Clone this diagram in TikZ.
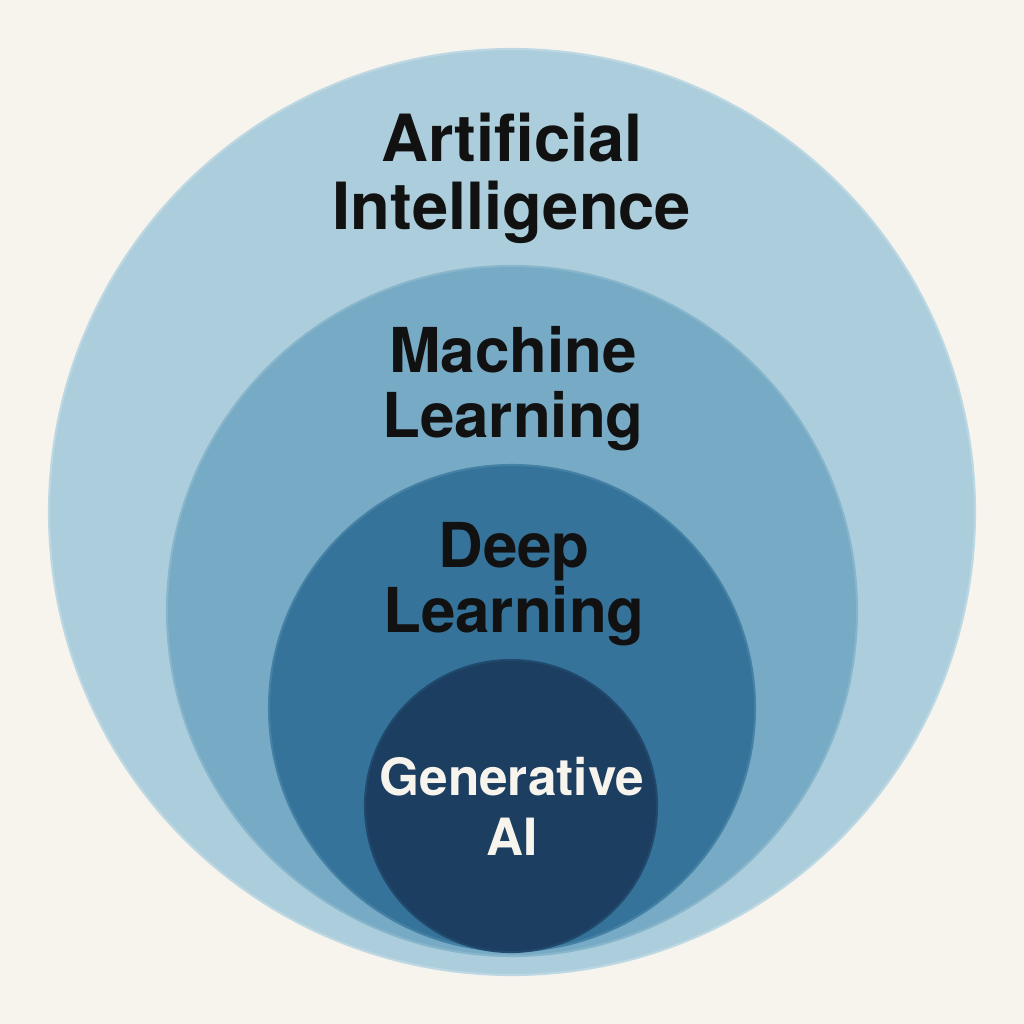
\documentclass[tikz,border=0pt]{standalone}
\usepackage{fontspec}
\setmainfont{TeX Gyre Heros}
\usepackage{tikz}
\usetikzlibrary{calc}

\definecolor{paper}{HTML}{F7F4EE}
\definecolor{aiblue}{HTML}{ACCEDC}
\definecolor{mlblue}{HTML}{77AAC4}
\definecolor{dlblue}{HTML}{35739A}
\definecolor{genblue}{HTML}{1C3E60}
\definecolor{inkdark}{HTML}{111111}

\tikzset{
    ring/.style={line width=0.6pt},
    darklabel/.style={inner sep=0pt, align=center, text=inkdark,
        font=\bfseries\fontsize{#1}{1.04\dimexpr #1\relax}\selectfont},
    lightlabel/.style={inner sep=0pt, align=center, text=paper,
        font=\bfseries\fontsize{#1}{1.15\dimexpr #1\relax}\selectfont}
}

\begin{document}
\begin{tikzpicture}[x=0.01cm, y=-0.01cm]
    \fill[paper] (0,0) rectangle (1024,1024);
    \useasboundingbox (0,0) rectangle (1024,1024);

    \coordinate (O1) at (512,512);
    \coordinate (O2) at (512,611);
    \coordinate (O3) at (512,708);
    \coordinate (O4) at (511,806);

    \draw[ring, fill=aiblue, draw=aiblue!80!white] (O1) circle[radius=463];
    \draw[ring, fill=mlblue, draw=mlblue!70!aiblue] (O2) circle[radius=345];
    \draw[ring, fill=dlblue, draw=dlblue!75!mlblue] (O3) circle[radius=243];
    \draw[ring, fill=genblue, draw=genblue!80!dlblue] (O4) circle[radius=146];

    % base anchor sits on the last line
    \node[darklabel=18.5pt, anchor=base] (ai) at (512,229)
        {Artificial\\Intelligence};
    \node[darklabel=17.6pt, anchor=base] (ml) at (513,437)
        {Machine\\Learning};
    \node[darklabel=17.6pt, anchor=base] (dl) at (514,632)
        {Deep\\Learning};
    \node[lightlabel=14.6pt, anchor=base] (gen) at (512,855)
        {Generative\\AI};
\end{tikzpicture}
\end{document}
